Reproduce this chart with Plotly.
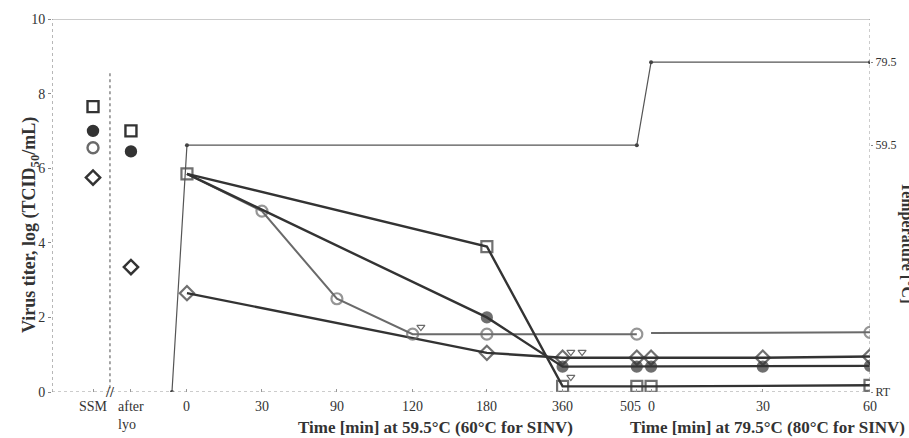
import plotly.graph_objects as go

# ---------------- data ----------------
categories = ["SSM", "after lyo", "0", "30", "90", "120", "180", "360", "505", "0 (79.5)", "30 (79.5)", "60 (79.5)"]
tick_labels = ["SSM", "after<br>lyo", "0", "30", "90", "120", "180", "360", "505", "0", "30", "60"]

# virus titers, log(TCID50/mL); None = no value
square_vals  = [7.65, 7.0, 5.85, None, None, None, 3.9, 0.15, 0.15, 0.15, None, 0.18]
filled_vals  = [7.0, 6.45, 5.85, None, None, None, 2.0, 0.68, 0.68, 0.68, 0.68, 0.70]
open_vals    = [6.55, None, 5.85, 4.85, 2.5, 1.55, 1.55, None, 1.55, 1.58, None, 1.6]
diamond_vals = [5.75, 3.35, 2.65, None, None, None, 1.05, 0.92, 0.92, 0.92, 0.92, 0.95]

# below-detection-limit markers (category, titer)
lod_cats = ["120", "360", "360", "360"]
lod_vals = [1.74, 1.07, 1.07, 0.40]

# temperature profile
temp_cats = ["RT", "0", "505", "0 (79.5)", "60 (79.5)"]
temp_vals = [0, 59.5, 59.5, 79.5, 79.5]
temp_tick_vals = [0, 59.5, 79.5]
temp_tick_text = ["RT", "59.5", "79.5"]

# ---------------- layout helpers (axis positions, not data) ----------------
pos = {"SSM": 0.547, "after lyo": 1.053, "RT": 1.6, "0": 1.8, "30": 2.8, "90": 3.8,
       "120": 4.81, "180": 5.8, "360": 6.81, "505": 7.8, "0 (79.5)": 7.99,
       "30 (79.5)": 9.48, "60 (79.5)": 10.91}
lod_dx = [0.11, 0.11, 0.26, 0.11]
XMAX = 10.91

FONT = "Liberation Serif"
DARK = "#333333"
GRAY = "#6a6a6a"

fig = go.Figure()

# temperature line (right axis)
fig.add_trace(go.Scatter(
    x=[pos[c] for c in temp_cats], y=temp_vals, yaxis="y2", mode="lines+markers",
    line=dict(color="#555555", width=1.2), marker=dict(color="#444444", size=4),
    showlegend=False, hoverinfo="skip"))

def series(vals, symbol, color, lw, size, hidden=(), breaks=()):
    px, py = [], []
    for c, v in zip(categories[:2], vals[:2]):
        if v is not None:
            px.append(pos[c]); py.append(v)
    fig.add_trace(go.Scatter(x=px, y=py, mode="markers",
                             marker=dict(symbol=symbol, size=size, color=color,
                                         line=dict(color=color, width=2.4)),
                             showlegend=False))
    segs, cur = [], []
    for c, v in zip(categories[2:], vals[2:]):
        if c in breaks and cur:
            segs.append(cur); cur = []
        if v is not None:
            cur.append((c, v))
    if cur:
        segs.append(cur)
    for seg in segs:
        fig.add_trace(go.Scatter(
            x=[pos[c] for c, _ in seg], y=[v for _, v in seg], mode="lines+markers",
            line=dict(color=color, width=lw),
            marker=dict(symbol=symbol, color=color,
                        size=[0 if c in hidden else size for c, _ in seg],
                        line=dict(color=color, width=2.2)),
            showlegend=False))

series(diamond_vals, "diamond-open", DARK, 2.4, 11)
series(open_vals, "circle-open", GRAY, 2.0, 11, hidden=("0", "0 (79.5)"), breaks=("0 (79.5)",))
series(filled_vals, "circle", DARK, 2.4, 10, hidden=("0",))
series(square_vals, "square-open", DARK, 2.4, 11)

fig.add_trace(go.Scatter(
    x=[pos[c] + d for c, d in zip(lod_cats, lod_dx)], y=lod_vals, mode="markers",
    marker=dict(symbol="triangle-down-open", size=7, color=GRAY, line=dict(width=1.2)),
    showlegend=False))

shapes = [
    dict(type="line", xref="x", yref="y", x0=0, x1=XMAX, y0=10, y1=10,
         line=dict(color="#999999", width=1.2)),
    dict(type="line", xref="x", yref="y", x0=0, x1=XMAX, y0=0, y1=0,
         line=dict(color="#999999", width=1.2, dash="dot")),
    dict(type="line", xref="x", yref="y", x0=0, x1=0, y0=0, y1=10,
         line=dict(color="#888888", width=1.2, dash="dot")),
    dict(type="line", xref="x", yref="y", x0=XMAX, x1=XMAX, y0=0, y1=10,
         line=dict(color="#999999", width=1, dash="dot")),
    dict(type="line", xref="x", yref="y", x0=0.773, x1=0.773, y0=0.1, y1=8.6,
         line=dict(color="#888888", width=1.5, dash="dot")),
]

annotations = [
    dict(text="<b>//</b>", x=0.773, y=0, xref="x", yref="y", showarrow=False,
         font=dict(family=FONT, size=14, color=DARK)),
    dict(text="<b>Virus titer, log (TCID<sub>50</sub>/mL)</b>", textangle=-90,
         xref="paper", yref="paper", x=-0.042, y=0.448, showarrow=False,
         font=dict(family=FONT, size=18, color=DARK)),
    dict(text="<b>Temperature [°C]</b>", textangle=90,
         xref="paper", yref="paper", x=1.045, y=0.40, showarrow=False, xanchor="center",
         font=dict(family=FONT, size=16, color=DARK)),
    dict(text="<b>Time [min] at 59.5°C (60°C for SINV)</b>", xref="x", yref="paper",
         x=(436 - 52) / 75, y=-0.094, showarrow=False, yanchor="middle",
         font=dict(family=FONT, size=17, color=DARK)),
    dict(text="<b>Time [min] at 79.5°C (80°C for SINV)</b>", xref="x", yref="paper",
         x=(768 - 52) / 75, y=-0.094, showarrow=False, yanchor="middle",
         font=dict(family=FONT, size=17, color=DARK)),
]

# x tick labels as text annotations (allows the tight "505 0" pair)
for c, t in zip(categories, tick_labels):
    a = dict(text=t, x=pos[c], y=0, xref="x", yref="paper", showarrow=False,
             yanchor="top", yshift=-5, font=dict(family=FONT, size=14, color=DARK),
             align="left")
    if c == "505":
        a.update(xanchor="right", xshift=6)
    annotations.append(a)

fig.update_layout(
    width=909, height=438,
    margin=dict(l=52, r=39, t=19, b=46),
    paper_bgcolor="white", plot_bgcolor="white",
    font=dict(family=FONT, color=DARK),
    xaxis=dict(range=[0, XMAX], showgrid=False, zeroline=False, showline=False,
               tickvals=[pos[c] for c in categories], showticklabels=False,
               ticks="inside", ticklen=3, tickcolor="#999999"),
    yaxis=dict(range=[0, 10], showgrid=False, zeroline=False, showline=False,
               tickvals=[0, 2, 4, 6, 8, 10], ticks="outside", ticklen=3,
               tickcolor="#888888",
               tickfont=dict(family=FONT, size=14, color=DARK),
               tickprefix="<b>", ticksuffix="</b>"),
    yaxis2=dict(range=[0, 89.9], overlaying="y", side="right", showgrid=False,
                zeroline=False, showline=False, tickvals=temp_tick_vals,
                ticktext=temp_tick_text, ticks="outside", ticklen=2,
                tickcolor="#888888",
                tickfont=dict(family=FONT, size=12, color=DARK)),
    shapes=shapes, annotations=annotations,
)

fig.write_html("out.html")
